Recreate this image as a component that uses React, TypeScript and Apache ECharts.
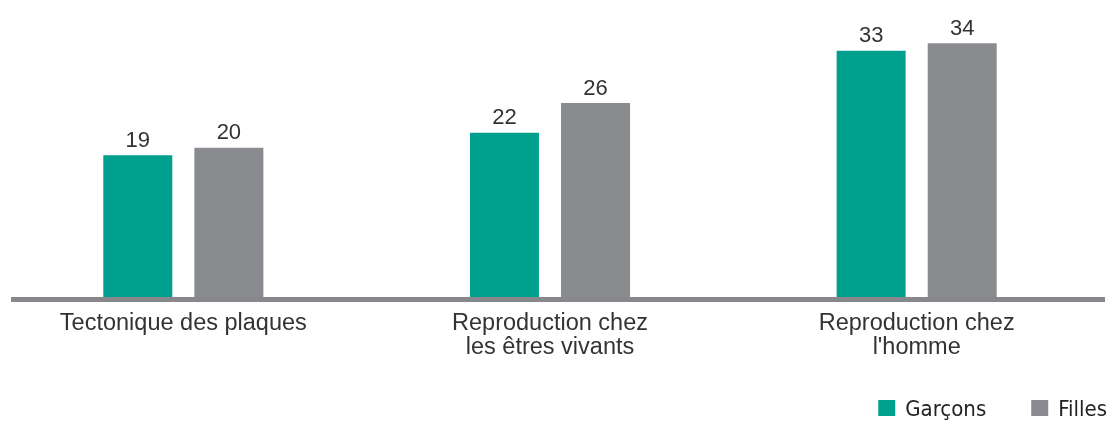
import React, { useEffect, useRef } from "react";
import * as echarts from "echarts";

const categories = [
  "Tectonique des plaques",
  "Reproduction chez\nles êtres vivants",
  "Reproduction chez\nl'homme",
];
const garcons = [19, 22, 33];
const filles = [20, 26, 34];
const seriesNames = ["Garçons", "Filles"];

const GREEN = "#00A08F";
const GREY = "#8A8B8F";

export default function App() {
  const ref = useRef<HTMLDivElement>(null);

  useEffect(() => {
    if (!ref.current) return;
    const chart = echarts.init(ref.current, undefined, { renderer: "svg" });

    const valueLabel = {
      show: true,
      position: "top",
      distance: 5,
      color: "#333",
      fontSize: 22,
      fontFamily: "Liberation Sans, Arial, sans-serif",
    };

    chart.setOption({
      animation: false,
      grid: { left: -3, right: 9, top: 6, bottom: 126, containLabel: false },
      legend: {
        data: seriesNames,
        right: 2,
        top: 396,
        padding: 0,
        itemWidth: 17,
        itemHeight: 16,
        itemGap: 45,
        icon: "rect",
        textStyle: {
          color: "#222",
          fontSize: 22,
          lineHeight: 24,
          padding: [0, 0, 0, 5],
          fontFamily: "DejaVu Sans Condensed, Liberation Sans Narrow, sans-serif",
        },
      },
      xAxis: {
        type: "category",
        data: categories,
        axisLine: { show: false },
        axisTick: { show: false },
        axisLabel: {
          color: "#333",
          fontSize: 23.5,
          lineHeight: 24,
          margin: 13,
          fontFamily: "Liberation Sans, Arial, sans-serif",
          interval: 0,
        },
      },
      yAxis: {
        type: "value",
        min: 0,
        max: 39,
        show: false,
        splitLine: { show: false },
      },
      graphic: [
        {
          type: "rect",
          shape: { x: 11, y: 297, width: 1094, height: 5 },
          style: { fill: "#87888C" },
          z: 10,
        },
      ],
      series: [
        {
          name: seriesNames[0],
          type: "bar",
          data: garcons,
          barWidth: 69,
          barGap: "32%",
          itemStyle: { color: GREEN },
          label: valueLabel,
        },
        {
          name: seriesNames[1],
          type: "bar",
          data: filles,
          barWidth: 69,
          itemStyle: { color: GREY },
          label: valueLabel,
        },
      ],
    });

    return () => chart.dispose();
  }, []);

  return (
    <div
      ref={ref}
      style={{ position: "fixed", left: 0, top: 0, width: 1109, height: 423 }}
    />
  );
}
